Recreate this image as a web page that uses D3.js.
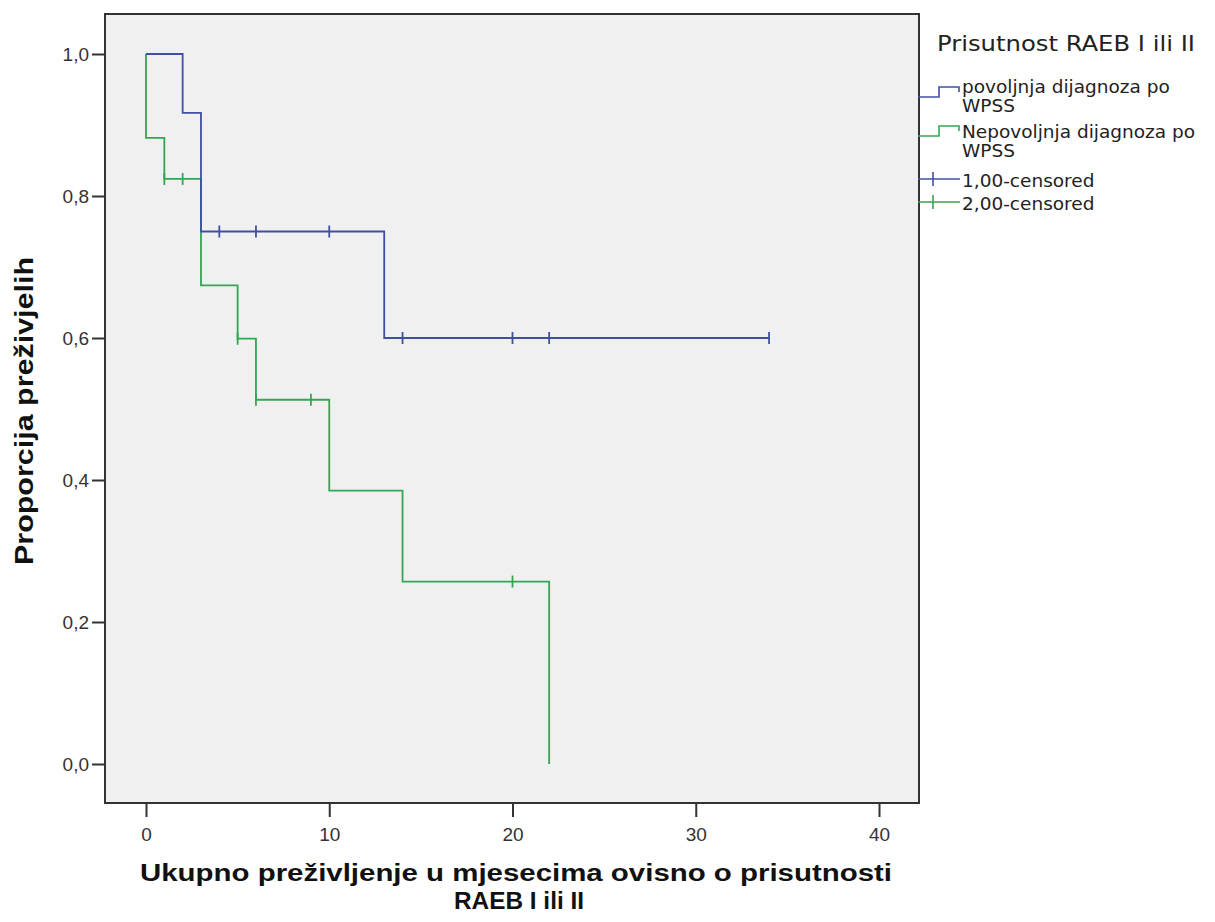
<!DOCTYPE html>
<html>
<head>
<meta charset="utf-8">
<script src="https://cdn.jsdelivr.net/npm/d3@7"></script>
<style>
  body { margin: 0; background: #fff; }
  text { font-family: "Liberation Sans", Arial, sans-serif; }
</style>
</head>
<body>
<div id="chart"></div>
<script>
var svgWidth = 1215;
var svgHeight = 922;

// Kaplan-Meier step data
var blueTimes = [0, 2, 3, 13, 34];
var blueSurv = [1.0, 0.917, 0.75, 0.6, 0.6];
var blueCensored = [4, 6, 10, 14, 20, 22, 34];

var greenTimes = [0, 0, 1, 3, 5, 6, 10, 14, 22];
var greenSurv = [1.0, 0.882, 0.824, 0.674, 0.599, 0.513, 0.385, 0.257, 0.0];
var greenCensored = [1, 2, 5, 6, 9, 20];

var xTicks = [0, 10, 20, 30, 40];
var yTicks = [0, 0.2, 0.4, 0.6, 0.8, 1.0];

var legendTitle = "Prisutnost RAEB I ili II";
var legendLabels = [
  ["povoljnja dijagnoza po", "WPSS"],
  ["Nepovoljnja dijagnoza po", "WPSS"],
  ["1,00-censored"],
  ["2,00-censored"]
];

var blueColor = "#3f4fa3";
var greenColor = "#33a653";

// plot frame
var frame = { left: 105, top: 14, right: 919, bottom: 803 };

var svg = d3.select("#chart").append("svg")
  .attr("width", svgWidth)
  .attr("height", svgHeight);

var xScale = d3.scaleLinear().domain([0, 40]).range([146, 879]);
var yScale = d3.scaleLinear().domain([0, 1]).range([764, 54]);

// plot background
svg.append("rect")
  .attr("x", frame.left)
  .attr("y", frame.top)
  .attr("width", frame.right - frame.left)
  .attr("height", frame.bottom - frame.top)
  .attr("fill", "#f0f0f0");

// axes
var yAxis = d3.axisLeft(yScale)
  .tickValues(yTicks)
  .tickSize(13)
  .tickPadding(3)
  .tickFormat(function(d) { return d3.format(".1f")(d).replace(".", ","); });

svg.append("g")
  .attr("transform", "translate(" + frame.left + ",0)")
  .call(yAxis)
  .call(function(g) {
    g.select(".domain").remove();
    g.selectAll("line").attr("stroke", "#333").attr("stroke-width", 2);
    g.selectAll("text").attr("font-size", 19).attr("fill", "#333")
      .style("font-family", "'Liberation Sans', Arial, sans-serif");
  });

var xAxis = d3.axisBottom(xScale)
  .tickValues(xTicks)
  .tickSize(14)
  .tickPadding(11)
  .tickFormat(d3.format("d"));

svg.append("g")
  .attr("transform", "translate(0," + frame.bottom + ")")
  .call(xAxis)
  .call(function(g) {
    g.select(".domain").remove();
    g.selectAll("line").attr("stroke", "#333").attr("stroke-width", 2);
    g.selectAll("text").attr("font-size", 19).attr("fill", "#333")
      .style("font-family", "'Liberation Sans', Arial, sans-serif");
  });

// frame border on top of ticks
svg.append("rect")
  .attr("x", frame.left)
  .attr("y", frame.top)
  .attr("width", frame.right - frame.left)
  .attr("height", frame.bottom - frame.top)
  .attr("fill", "none")
  .attr("stroke", "#333")
  .attr("stroke-width", 2);

// step curves
var stepLine = d3.line()
  .x(function(d) { return xScale(d[0]); })
  .y(function(d) { return yScale(d[1]); })
  .curve(d3.curveStepAfter);

function survAt(times, surv, t) {
  var s = surv[0];
  for (var i = 0; i < times.length; i++) {
    if (times[i] <= t) s = surv[i];
  }
  return s;
}

function drawCurve(times, surv, censored, color) {
  var pts = times.map(function(t, i) { return [t, surv[i]]; });
  svg.append("path")
    .datum(pts)
    .attr("d", stepLine)
    .attr("fill", "none")
    .attr("stroke", color)
    .attr("stroke-width", 1.8);

  svg.selectAll(null)
    .data(censored)
    .enter()
    .append("line")
    .attr("x1", function(d) { return xScale(d); })
    .attr("x2", function(d) { return xScale(d); })
    .attr("y1", function(d) { return yScale(survAt(times, surv, d)) - 6; })
    .attr("y2", function(d) { return yScale(survAt(times, surv, d)) + 6; })
    .attr("stroke", color)
    .attr("stroke-width", 1.8);
}

drawCurve(greenTimes, greenSurv, greenCensored, greenColor);
drawCurve(blueTimes, blueSurv, blueCensored, blueColor);

// axis titles
svg.append("text")
  .attr("transform", "translate(33,411) rotate(-90)")
  .attr("text-anchor", "middle")
  .attr("font-size", 25)
  .attr("font-weight", "bold")
  .attr("fill", "#111")
  .attr("textLength", 308)
  .attr("lengthAdjust", "spacingAndGlyphs")
  .text("Proporcija preživjelih");

svg.append("text")
  .attr("x", 516)
  .attr("y", 881)
  .attr("text-anchor", "middle")
  .attr("font-size", 23)
  .attr("font-weight", "bold")
  .attr("fill", "#111")
  .attr("textLength", 752)
  .attr("lengthAdjust", "spacingAndGlyphs")
  .text("Ukupno preživljenje u mjesecima ovisno o prisutnosti");

svg.append("text")
  .attr("x", 519)
  .attr("y", 909)
  .attr("text-anchor", "middle")
  .attr("font-size", 23)
  .attr("font-weight", "bold")
  .attr("fill", "#111")
  .attr("textLength", 130)
  .attr("lengthAdjust", "spacingAndGlyphs")
  .text("RAEB I ili II");

// legend
var legend = svg.append("g");

legend.append("text")
  .attr("x", 937)
  .attr("y", 51)
  .attr("font-size", 21)
  .attr("fill", "#222")
  .attr("textLength", 258)
  .attr("lengthAdjust", "spacingAndGlyphs")
  .style("font-family", "'DejaVu Sans', sans-serif")
  .text(legendTitle);

var legendColors = [blueColor, greenColor, blueColor, greenColor];
var legendY = [92, 131, 179, 202];
var textY = [[93, 112], [138, 157], [187], [210]];

legendLabels.forEach(function(lines, i) {
  var y = legendY[i];
  var color = legendColors[i];
  if (i < 2) {
    // little step icon
    legend.append("path")
      .attr("d", "M918," + (y + 5) + "H939V" + (y - 5) + "H959V" + y)
      .attr("fill", "none")
      .attr("stroke", color)
      .attr("stroke-width", 1.6);
  } else {
    legend.append("line")
      .attr("x1", 918).attr("x2", 960)
      .attr("y1", y).attr("y2", y)
      .attr("stroke", color).attr("stroke-width", 1.6);
    legend.append("line")
      .attr("x1", 933).attr("x2", 933)
      .attr("y1", y - 7).attr("y2", y + 7)
      .attr("stroke", color).attr("stroke-width", 1.6);
  }
  lines.forEach(function(txt, j) {
    legend.append("text")
      .attr("x", 962)
      .attr("y", textY[i][j])
      .attr("font-size", 18.5)
      .attr("fill", "#222")
      .style("font-family", "'DejaVu Sans', sans-serif")
      .text(txt);
  });
});
</script>
</body>
</html>
